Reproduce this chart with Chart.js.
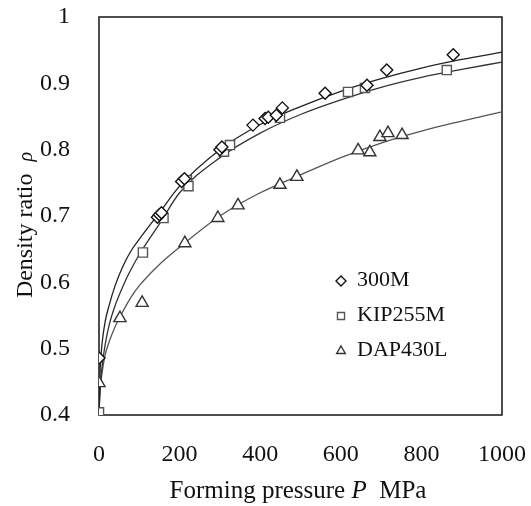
<!DOCTYPE html>
<html>
<head>
<meta charset="utf-8">
<script src="https://cdn.jsdelivr.net/npm/chart.js"></script>
<style>
  body { margin: 0; background: #fff; }
</style>
</head>
<body>
<canvas id="myChart" width="531" height="506"></canvas>
<script>
const ctx = document.getElementById('myChart');

// measured points
const p300M = [0, 145, 150, 155, 205, 212, 300, 305, 382, 412, 420, 440, 455, 561, 665, 714, 879];
const rho300M = [0.486, 0.698, 0.702, 0.705, 0.752, 0.756, 0.800, 0.804, 0.837, 0.847, 0.849, 0.852, 0.863, 0.885, 0.897, 0.920, 0.943];

const pKIP = [0, 109, 160, 218, 222, 310, 325, 449, 618, 660, 863];
const rhoKIP = [0.404, 0.645, 0.697, 0.754, 0.745, 0.797, 0.807, 0.848, 0.887, 0.893, 0.920];

const pDAP = [0, 52, 107, 213, 295, 345, 449, 491, 643, 672, 697, 717, 752];
const rhoDAP = [0.448, 0.546, 0.569, 0.659, 0.697, 0.716, 0.747, 0.759, 0.799, 0.796, 0.819, 0.825, 0.822];

// fitted curves
const curveP = [0, 3, 8, 15, 25, 40, 60, 80, 100, 150, 200, 300, 400, 500, 600, 700, 800, 900, 1000];
const fit300M = [0.41, 0.47, 0.51, 0.54, 0.565, 0.595, 0.625, 0.648, 0.665, 0.705, 0.745, 0.80, 0.838, 0.865, 0.888, 0.907, 0.923, 0.936, 0.947];
const fitKIP = [0.40, 0.44, 0.475, 0.505, 0.535, 0.565, 0.595, 0.62, 0.642, 0.688, 0.735, 0.788, 0.825, 0.853, 0.875, 0.894, 0.909, 0.921, 0.932];
const fitDAP = [0.41, 0.44, 0.465, 0.49, 0.51, 0.533, 0.557, 0.578, 0.595, 0.627, 0.653, 0.70, 0.735, 0.762, 0.788, 0.81, 0.828, 0.843, 0.857];

const xTicks = [0, 200, 400, 600, 800, 1000];
const yTicks = [0.4, 0.5, 0.6, 0.7, 0.8, 0.9, 1];

const serif = 'Liberation Serif';

function pts(xs, ys) {
  return xs.map((x, i) => ({x: x, y: ys[i]}));
}

function markerPath(c, style, x, y, r) {
  c.beginPath();
  if (style === 'rectRot') {
    c.moveTo(x - r, y); c.lineTo(x, y - r); c.lineTo(x + r, y); c.lineTo(x, y + r);
  } else if (style === 'rect') {
    const s = r * Math.SQRT1_2;
    c.rect(x - s, y - s, 2 * s, 2 * s);
  } else {
    c.moveTo(x, y - r);
    c.lineTo(x + r * 0.866, y + r * 0.5);
    c.lineTo(x - r * 0.866, y + r * 0.5);
  }
  c.closePath();
}

const extras = {
  id: 'extras',
  beforeDatasetsDraw(chart) {
    const c = chart.ctx, a = chart.chartArea;
    c.save();
    c.strokeStyle = '#222';
    c.lineWidth = 1.6;
    c.strokeRect(a.left, a.top, a.right - a.left, a.bottom - a.top);
    c.restore();
  },
  afterDraw(chart) {
    const c = chart.ctx;
    c.save();
    c.fillStyle = '#111';
    c.textBaseline = 'alphabetic';

    // x title
    const xf = '25px "' + serif + '"', xi = 'italic 25px "' + serif + '"';
    const parts = [['Forming pressure ', xf], ['P', xi], ['  MPa', xf]];
    let w = 0;
    parts.forEach(p => { c.font = p[1]; w += c.measureText(p[0]).width; });
    let x = 298 - w / 2;
    parts.forEach(p => { c.font = p[1]; c.fillText(p[0], x, 498); x += c.measureText(p[0]).width; });

    // y title
    c.translate(32, 225);
    c.rotate(-Math.PI / 2);
    const yParts = [['Density ratio  ', '24px "' + serif + '"'], ['\u03C1', 'italic 20px "' + serif + '"']];
    w = 0;
    yParts.forEach(p => { c.font = p[1]; w += c.measureText(p[0]).width; });
    x = -w / 2;
    yParts.forEach(p => { c.font = p[1]; c.fillText(p[0], x, 0); x += c.measureText(p[0]).width; });
    c.setTransform(1, 0, 0, 1, 0, 0);

    // legend
    const items = chart.data.datasets.filter(d => d.type === 'scatter');
    c.font = '22px "' + serif + '"';
    c.textBaseline = 'middle';
    items.forEach((d, i) => {
      const ly = 280 + i * 35;
      markerPath(c, d.pointStyle, 341, ly + 1, 5);
      c.fillStyle = '#fff';
      c.fill();
      c.strokeStyle = d.borderColor;
      c.lineWidth = 1.4;
      c.stroke();
      c.fillStyle = '#111';
      c.fillText(d.label, 357, ly);
    });
    c.restore();
  }
};

const curve = (data, color) => ({
  type: 'line',
  data: pts(curveP, data),
  borderColor: color,
  borderWidth: 1.3,
  pointRadius: 0,
  cubicInterpolationMode: 'monotone',
  fill: false,
  order: 2
});

const scatter = (label, xs, ys, style, color, r) => ({
  type: 'scatter',
  label: label,
  data: pts(xs, ys),
  pointStyle: style,
  pointRadius: r,
  borderColor: color,
  backgroundColor: '#fff',
  borderWidth: 1.4,
  order: 1
});

new Chart(ctx, {
  data: {
    datasets: [
      scatter('300M', p300M, rho300M, 'rectRot', '#111', 6),
      scatter('KIP255M', pKIP, rhoKIP, 'rect', '#555', 6.5),
      scatter('DAP430L', pDAP, rhoDAP, 'triangle', '#333', 7),
      curve(fit300M, '#222'),
      curve(fitKIP, '#333'),
      curve(fitDAP, '#555')
    ]
  },
  plugins: [extras],
  options: {
    responsive: false,
    animation: false,
    layout: { padding: { top: 17, right: 29, left: 0, bottom: 0 } },
    plugins: {
      legend: { display: false },
      tooltip: { enabled: false }
    },
    scales: {
      x: {
        type: 'linear',
        min: 0,
        max: 1000,
        grid: { display: false },
        border: { display: false },
        afterBuildTicks: s => { s.ticks = xTicks.map(v => ({value: v})); },
        afterFit: s => { s.height = 91; s.paddingLeft = 0; s.paddingRight = 0; },
        ticks: {
          color: '#111',
          padding: 17,
          maxRotation: 0,
          font: { family: serif, size: 24 },
          callback: v => String(v)
        }
      },
      y: {
        type: 'linear',
        min: 0.4,
        max: 1,
        grid: { display: false },
        border: { display: false },
        afterBuildTicks: s => { s.ticks = yTicks.map(v => ({value: v})); },
        afterFit: s => { s.width = 99; s.paddingTop = 0; s.paddingBottom = 0; },
        ticks: {
          color: '#111',
          padding: 21,
          font: { family: serif, size: 24 },
          callback: v => String(+v.toFixed(1))
        }
      }
    }
  }
});
</script>
</body>
</html>
